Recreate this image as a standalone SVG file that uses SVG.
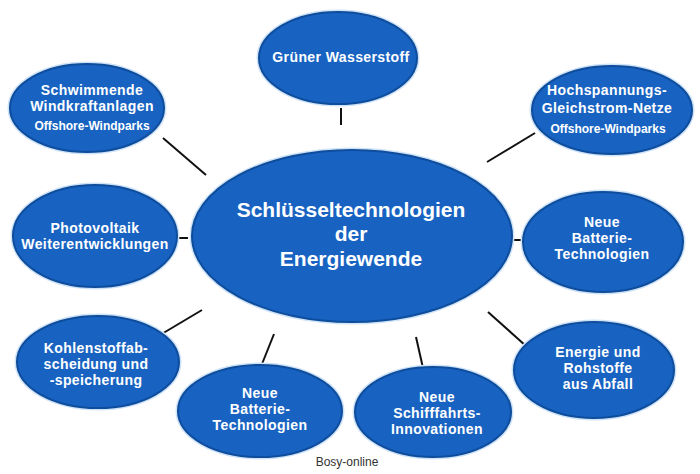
<svg xmlns="http://www.w3.org/2000/svg" width="700" height="474" viewBox="0 0 700 474">
<style>
.n{fill:#1863c2;stroke:#0e4c9c;stroke-width:2}
.halo{fill:none;stroke:#cfe3f7;stroke-width:5}
.t{font-family:"Liberation Sans",Arial,sans-serif;font-weight:bold;font-size:14px;letter-spacing:0.4px;fill:#fff;text-anchor:middle}
.s{font-size:12px;letter-spacing:0}
.c{font-size:21px;letter-spacing:0}
.l{stroke:#111;stroke-width:2;fill:none}
</style>
<rect width="700" height="474" fill="#fff"/>
<g id="connectors">
<line class="l" x1="341" y1="108" x2="341" y2="125"/>
<line class="l" x1="163" y1="138" x2="206" y2="175"/>
<line class="l" x1="487" y1="162" x2="535" y2="133"/>
<line class="l" x1="177" y1="238" x2="188" y2="238"/>
<line class="l" x1="512" y1="240" x2="523" y2="240"/>
<line class="l" x1="160" y1="335" x2="202" y2="310"/>
<line class="l" x1="262" y1="364" x2="274" y2="334"/>
<line class="l" x1="416" y1="337" x2="423" y2="368"/>
<line class="l" x1="488" y1="312" x2="526" y2="346"/>
</g>
<g id="center">
<ellipse class="halo" cx="352" cy="236" rx="160" ry="86"/>
<ellipse class="n" cx="352" cy="236" rx="160" ry="86"/>
<text class="t c" x="351" y="217">Schlüsseltechnologien</text>
<text class="t c" x="351" y="241">der</text>
<text class="t c" x="351" y="266">Energiewende</text>
</g>
<g id="n-wasserstoff">
<ellipse class="halo" cx="338" cy="58" rx="79" ry="46"/>
<ellipse class="n" cx="338" cy="58" rx="79" ry="46"/>
<text class="t" x="341" y="62">Grüner Wasserstoff</text>
</g>
<g id="n-schwimmende">
<ellipse class="halo" cx="87" cy="108" rx="77" ry="44"/>
<ellipse class="n" cx="87" cy="108" rx="77" ry="44"/>
<text class="t" x="92" y="95">Schwimmende</text>
<text class="t" x="92" y="111">Windkraftanlagen</text>
<text class="t s" x="92" y="130">Offshore-Windparks</text>
</g>
<g id="n-hgue">
<ellipse class="halo" cx="612" cy="110" rx="80" ry="44"/>
<ellipse class="n" cx="612" cy="110" rx="80" ry="44"/>
<text class="t" x="607" y="95">Hochspannungs-</text>
<text class="t" x="607" y="113">Gleichstrom-Netze</text>
<text class="t s" x="608" y="133">Offshore-Windparks</text>
</g>
<g id="n-photovoltaik">
<ellipse class="halo" cx="95" cy="236" rx="82" ry="51"/>
<ellipse class="n" cx="95" cy="236" rx="82" ry="51"/>
<text class="t" x="95" y="233">Photovoltaik</text>
<text class="t" x="95" y="249">Weiterentwicklungen</text>
</g>
<g id="n-batterie-rechts">
<ellipse class="halo" cx="603" cy="242" rx="80" ry="50"/>
<ellipse class="n" cx="603" cy="242" rx="80" ry="50"/>
<text class="t" x="602" y="227">Neue</text>
<text class="t" x="602" y="243">Batterie-</text>
<text class="t" x="602" y="259">Technologien</text>
</g>
<g id="n-kohlenstoff">
<ellipse class="halo" cx="98" cy="362" rx="81" ry="46"/>
<ellipse class="n" cx="98" cy="362" rx="81" ry="46"/>
<text class="t" x="96" y="353">Kohlenstoffab-</text>
<text class="t" x="96" y="369">scheidung und</text>
<text class="t" x="96" y="385">-speicherung</text>
</g>
<g id="n-batterie-unten">
<ellipse class="halo" cx="260" cy="411" rx="82" ry="46"/>
<ellipse class="n" cx="260" cy="411" rx="82" ry="46"/>
<text class="t" x="260" y="398">Neue</text>
<text class="t" x="260" y="414">Batterie-</text>
<text class="t" x="260" y="430">Technologien</text>
</g>
<g id="n-schifffahrt">
<ellipse class="halo" cx="433" cy="412" rx="78" ry="45"/>
<ellipse class="n" cx="433" cy="412" rx="78" ry="45"/>
<text class="t" x="437" y="402">Neue</text>
<text class="t" x="437" y="418">Schifffahrts-</text>
<text class="t" x="437" y="434">Innovationen</text>
</g>
<g id="n-abfall">
<ellipse class="halo" cx="594" cy="370" rx="80" ry="48"/>
<ellipse class="n" cx="594" cy="370" rx="80" ry="48"/>
<text class="t" x="598" y="357">Energie und</text>
<text class="t" x="598" y="373">Rohstoffe</text>
<text class="t" x="598" y="389">aus Abfall</text>
</g>
<text x="347" y="466" font-family="'Liberation Sans',Arial,sans-serif" font-size="12" fill="#333" text-anchor="middle">Bosy-online</text>
</svg>
